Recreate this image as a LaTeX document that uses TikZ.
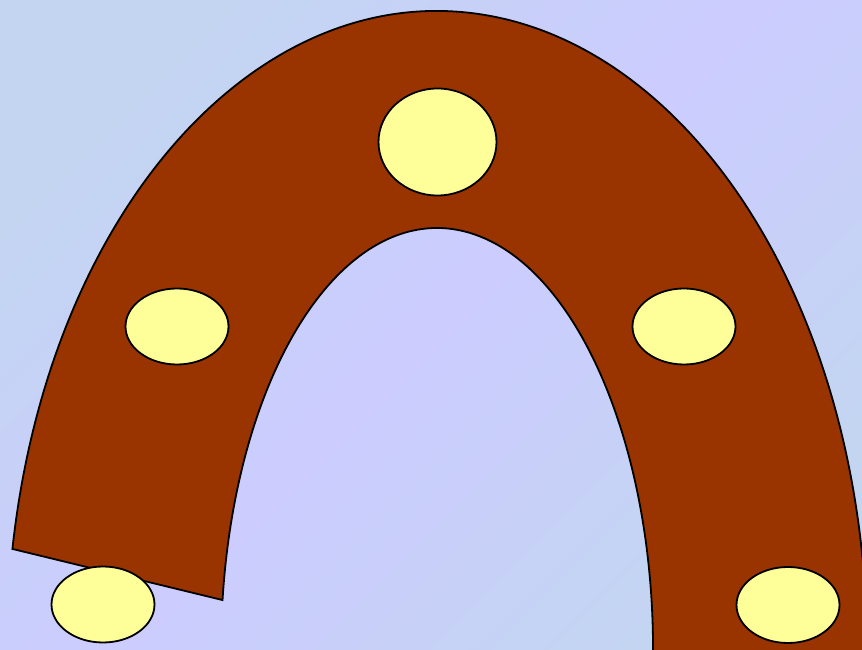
\documentclass[tikz,border=0pt]{standalone}
\usetikzlibrary{shapes.geometric,calc}
\definecolor{shoecol}{HTML}{993300}
\definecolor{holecol}{HTML}{FFFF99}
\definecolor{bgblue}{HTML}{C3D5F1}
\definecolor{bglav}{HTML}{CCCCFF}
\begin{document}
\begin{tikzpicture}[x=1pt,y=1pt,
  hole/.style={ellipse, draw=black, line width=1.8pt, fill=holecol, minimum width=103pt, minimum height=76pt, inner sep=0pt, outer sep=0pt},
  shoe/.style={draw=black, line width=1.8pt, fill=shoecol, line join=miter}]
\useasboundingbox (0,0) rectangle (862,650);
\clip (0,0) rectangle (862,650);
\shade[top color=bgblue, bottom color=bgblue, middle color=bglav, shading angle=45] (0,0) rectangle (862,650);
\coordinate (c) at (437,0);
\draw[shoe] ($(c)+(170.9:430 and 639)$) coordinate (lo)
  arc[start angle=170.9, end angle=-10, x radius=430, y radius=639]
  -- ($(c)+(-10:216 and 422)$)
  arc[start angle=-10, end angle=173.2, x radius=216, y radius=422] coordinate (li)
  -- cycle;
\node[hole, minimum width=118pt, minimum height=107pt] (htop) at (437.5,508) {};
\node[hole] (hleft) at (177,323.5) {};
\node[hole] (hright) at (684,323.5) {};
\node[hole] (hbl) at (103,45.5) {};
\node[hole] (hbr) at (788,45) {};
\end{tikzpicture}
\end{document}
